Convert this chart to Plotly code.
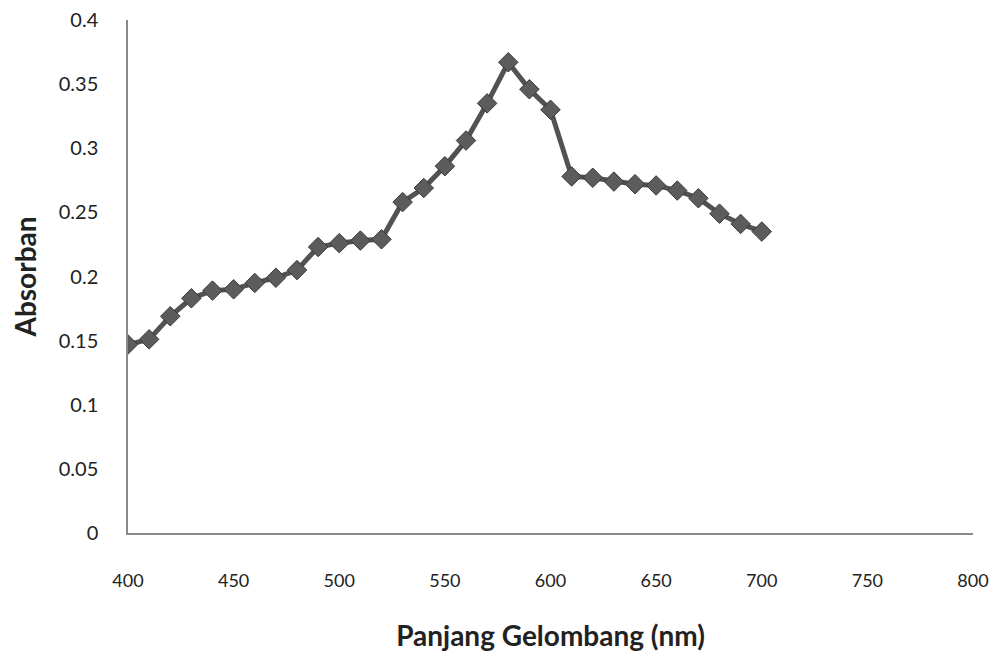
import plotly.graph_objects as go

wavelength = [400, 410, 420, 430, 440, 450, 460, 470, 480, 490, 500, 510, 520,
              530, 540, 550, 560, 570, 580, 590, 600, 610, 620, 630, 640, 650,
              660, 670, 680, 690, 700]
absorbance = [0.147, 0.151, 0.169, 0.183, 0.189, 0.190, 0.195, 0.199, 0.205,
              0.223, 0.226, 0.228, 0.229, 0.258, 0.269, 0.286, 0.306, 0.335,
              0.367, 0.346, 0.330, 0.278, 0.277, 0.274, 0.272, 0.271, 0.267,
              0.261, 0.249, 0.241, 0.235]

x_ticks = [400, 450, 500, 550, 600, 650, 700, 750, 800]
y_ticks = [0, 0.05, 0.1, 0.15, 0.2, 0.25, 0.3, 0.35, 0.4]
y_tick_text = ["0", "0.05", "0.1", "0.15", "0.2", "0.25", "0.3", "0.35", "0.4"]

fig = go.Figure()
fig.add_trace(go.Scatter(
    x=wavelength, y=absorbance, mode="lines+markers",
    line=dict(color="#525252", width=5),
    marker=dict(symbol="diamond", size=15, color="#5c5c5c",
                line=dict(color="#3a3a3a", width=1)),
    showlegend=False,
))

fig.update_layout(
    width=994, height=645,
    margin=dict(l=120, r=29, t=12, b=120),
    paper_bgcolor="white", plot_bgcolor="white",
    font=dict(family="Lato, Open Sans, sans-serif", color="#222222"),
)
fig.update_xaxes(
    range=[400, 800], tickvals=x_ticks, showgrid=False, zeroline=False,
    showline=True, linecolor="#8a8a8a", linewidth=1.5, automargin=False,
    ticks="", ticklabelstandoff=31, tickfont=dict(size=18),
    ticklabeloverflow="allow",
    title=dict(text="<b>Panjang Gelombang (nm)</b>", font=dict(size=28), standoff=36),
)
fig.update_yaxes(
    range=[0, 0.4], tickvals=y_ticks, ticktext=y_tick_text, showgrid=False,
    zeroline=False, showline=True, linecolor="#8a8a8a", linewidth=1.5,
    automargin=False, ticklabeloverflow="allow",
    ticks="", ticklabelstandoff=24, tickfont=dict(size=20),
    title=dict(text="<b>Absorban</b>", font=dict(size=28), standoff=21),
)

fig.write_html("out.html")
